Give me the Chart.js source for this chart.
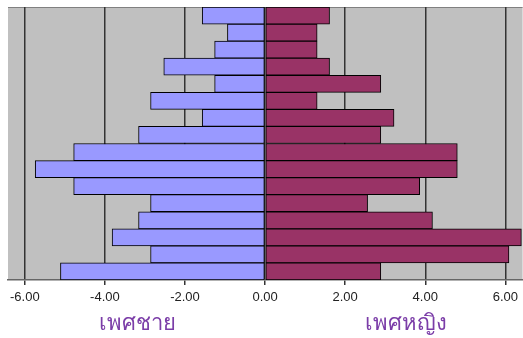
<!DOCTYPE html>
<html>
<head>
<meta charset="utf-8">
<script src="https://cdn.jsdelivr.net/npm/chart.js@4"></script>
<style>
  body { margin: 0; background: #fff; }
  #wrap { position: relative; width: 523px; height: 338px; }
  .sexLabel { position: absolute; top: 305px; font-family: "Liberation Sans", "Noto Sans", sans-serif; font-size: 22px; color: #7B3DA8; transform: translateX(-50%); white-space: nowrap; }
</style>
</head>
<body>
<div id="wrap">
  <canvas id="pyramid" width="523" height="338"></canvas>
  <div class="sexLabel" style="left:137px">เพศชาย</div>
  <div class="sexLabel" style="left:406px">เพศหญิง</div>
</div>
<script>
// age groups, top row first
const ageGroups = ["75+", "70-74", "65-69", "60-64", "55-59", "50-54", "45-49", "40-44",
                   "35-39", "30-34", "25-29", "20-24", "15-19", "10-14", "5-9", "0-4"];
const maleValues = [-1.57, -0.94, -1.26, -2.53, -1.26, -2.86, -1.57, -3.16,
                    -4.78, -5.74, -4.78, -2.86, -3.16, -3.82, -2.86, -5.11];
const femaleValues = [1.61, 1.30, 1.30, 1.61, 2.89, 1.30, 3.22, 2.89,
                      4.80, 4.80, 3.86, 2.56, 4.18, 6.40, 6.09, 2.89];
const xTicks = [-6, -4, -2, 0, 2, 4, 6];

// gray plot area behind bars
const plotBg = {
    id: 'plotBg',
    beforeDraw(chart) {
        const { ctx, chartArea: a } = chart;
        ctx.save();
        ctx.fillStyle = '#C0C0C0';
        ctx.fillRect(a.left, a.top, a.right - a.left, a.bottom - a.top);
        ctx.strokeStyle = '#808080';
        ctx.lineWidth = 1;
        ctx.beginPath();
        ctx.moveTo(a.left, a.top + 0.5);
        ctx.lineTo(a.right, a.top + 0.5);
        ctx.stroke();
        ctx.restore();
    }
};

new Chart(document.getElementById('pyramid'), {
    type: 'bar',
    data: {
        labels: ageGroups,
        datasets: [
            { label: 'เพศชาย', data: maleValues, backgroundColor: '#9999FF', borderColor: '#000', borderWidth: 1, borderSkipped: false },
            { label: 'เพศหญิง', data: femaleValues, backgroundColor: '#993366', borderColor: '#000', borderWidth: 1, borderSkipped: false }
        ]
    },
    options: {
        indexAxis: 'y',
        responsive: false,
        animation: false,
        layout: { padding: { left: 8, top: 7, right: 0, bottom: 0 } },
        datasets: { bar: { barPercentage: 1, categoryPercentage: 1 } },
        plugins: { legend: { display: false }, tooltip: { enabled: false } },
        scales: {
            x: {
                stacked: true,
                min: -6.42,
                max: 6.43,
                afterBuildTicks: (scale) => { scale.ticks = xTicks.map(v => ({ value: v })); },
                afterFit: (scale) => { scale.height = 58; },
                grid: { color: '#333', lineWidth: 1.5, tickLength: 5, tickColor: '#333' },
                border: { color: '#666', width: 1.5 },
                ticks: {
                    color: '#222',
                    padding: 5,
                    font: { family: 'Liberation Sans', size: 13 },
                    callback: (v) => Number(v).toFixed(2)
                }
            },
            y: {
                stacked: true,
                display: false
            }
        }
    },
    plugins: [plotBg]
});
</script>
</body>
</html>
